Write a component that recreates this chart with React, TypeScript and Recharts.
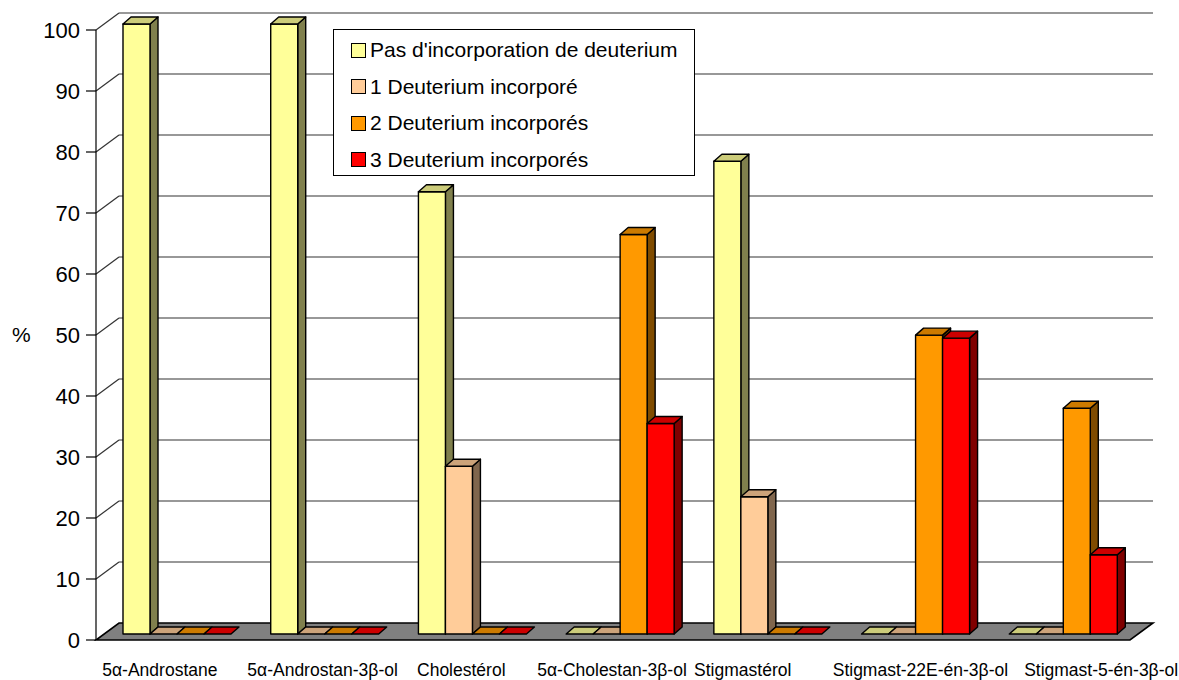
import React from 'react';
import { BarChart, Bar, XAxis, YAxis, CartesianGrid, Legend } from 'recharts';

const categories = [
  '5α-Androstane',
  '5α-Androstan-3β-ol',
  'Cholestérol',
  '5α-Cholestan-3β-ol',
  'Stigmastérol',
  'Stigmast-22E-én-3β-ol',
  'Stigmast-5-én-3β-ol',
];
const noDeuterium = [100, 100, 72.5, 0, 77.5, 0, 0];
const oneDeuterium = [0, 0, 27.5, 0, 22.5, 0, 0];
const twoDeuterium = [0, 0, 0, 65.5, 0, 49, 37];
const threeDeuterium = [0, 0, 0, 34.5, 0, 48.5, 13];
const yTicks = [0, 10, 20, 30, 40, 50, 60, 70, 80, 90, 100];

const data = categories.map((name, i) => ({
  name,
  d0: noDeuterium[i],
  d1: oneDeuterium[i],
  d2: twoDeuterium[i],
  d3: threeDeuterium[i],
}));

const series = [
  { key: 'd0', label: "Pas d'incorporation de deuterium", front: '#FFFF99', top: '#CCCC7A', side: '#80804D' },
  { key: 'd1', label: '1 Deuterium incorporé', front: '#FFCC99', top: '#CCA37A', side: '#80664D' },
  { key: 'd2', label: '2 Deuterium incorporés', front: '#FF9900', top: '#CC7A00', side: '#804C00' },
  { key: 'd3', label: '3 Deuterium incorporés', front: '#FF0000', top: '#CC0000', side: '#800000' },
];

const FONT = '"Liberation Sans", Arial, sans-serif';
// depth of the floor / back wall, of the bar offset and of the bar itself
const WALL_DX = 23, WALL_DY = 17;
const OFF_DX = 7, OFF_DY = 6;
const BOX_DX = 8, BOX_DY = 7;
// small horizontal nudges of the category labels (Excel staggers them to avoid overlap)
const LABEL_NUDGE = [-10, 5, -4, -1, -18, 12, 45];

const Box3D = (props: any) => {
  const { x, y, width, height, front, top, side } = props;
  if (x == null || y == null) return null;
  const fx = x + OFF_DX;
  const fy = y - OFF_DY;
  const h = Math.max(0, height || 0);
  const bottom = fy + h;
  const pts = (a: number[][]) => a.map((p) => p.join(',')).join(' ');
  return (
    <g stroke="#000" strokeWidth={1.4} strokeLinejoin="round">
      {h > 0 && (
        <polygon
          fill={side}
          points={pts([[fx + width, fy], [fx + width + BOX_DX, fy - BOX_DY], [fx + width + BOX_DX, bottom - BOX_DY], [fx + width, bottom]])}
        />
      )}
      {h > 0 && <rect x={fx} y={fy} width={width} height={h} fill={front} />}
      <polygon
        fill={top}
        points={pts([[fx, fy], [fx + width, fy], [fx + width + BOX_DX, fy - BOX_DY], [fx + BOX_DX, fy - BOX_DY]])}
      />
    </g>
  );
};

const WallLine = (props: any) => {
  const { x1, y1, x2, y, height } = props;
  const isFloor = Math.abs(y1 - (y + height)) < 0.5;
  if (isFloor) {
    return (
      <polygon
        key={props.key}
        points={`${x1},${y1} ${x2},${y1} ${x2 + WALL_DX},${y1 - WALL_DY} ${x1 + WALL_DX},${y1 - WALL_DY}`}
        fill="#808080"
        stroke="#000"
        strokeWidth={1.6}
      />
    );
  }
  return (
    <g key={props.key} stroke="#333" strokeWidth={1.2}>
      <line x1={x1} y1={y1} x2={x1 + WALL_DX} y2={y1 - WALL_DY} />
      <line x1={x1 + WALL_DX} y1={y1 - WALL_DY} x2={x2 + WALL_DX} y2={y1 - WALL_DY} />
    </g>
  );
};

const CategoryTick = (props: any) => {
  const { x, y, payload, index } = props;
  return (
    <text
      x={x + (LABEL_NUDGE[index] || 0)}
      y={y}
      dy="0.71em"
      textAnchor="middle"
      fill="#000"
      fontSize={17.5}
      fontFamily={FONT}
    >
      {payload.value}
    </text>
  );
};

const LegendBox = () => (
  <div
    style={{
      width: 362,
      height: 147,
      border: '1px solid #000',
      background: '#fff',
      fontFamily: FONT,
      fontSize: 21,
      color: '#000',
      paddingTop: 2,
      boxSizing: 'border-box',
    }}
  >
    {series.map((s) => (
      <div key={s.key} style={{ display: 'flex', alignItems: 'center', height: 36.5, paddingLeft: 17 }}>
        <span
          style={{
            display: 'inline-block',
            width: 13,
            height: 13,
            background: s.front,
            border: '1px solid #000',
            marginRight: 4,
          }}
        />
        <span>{s.label}</span>
      </div>
    ))}
  </div>
);

export default function App() {
  return (
    <div style={{ position: 'fixed', left: 0, top: 0, width: 1179, height: 680, background: '#fff' }}>
      <BarChart
        width={1179}
        height={680}
        data={data}
        margin={{ top: 30, right: 49, left: 0, bottom: 10 }}
        barGap={0}
        barSize={27}
      >
        <CartesianGrid vertical={false} horizontal={WallLine as any} />
        <XAxis
          dataKey="name"
          axisLine={false}
          tickLine={false}
          height={30}
          tickSize={6}
          tickMargin={18}
          interval={0}
          tick={<CategoryTick />}
        />
        <YAxis
          width={96}
          domain={[0, 100]}
          ticks={yTicks}
          interval={0}
          tickSize={10}
          tickMargin={6}
          axisLine={{ stroke: '#000', strokeWidth: 1.2 }}
          tickLine={{ stroke: '#000', strokeWidth: 1.2 }}
          tick={{ fill: '#000', fontSize: 22, fontFamily: FONT }}
          label={{ value: '%', position: 'insideLeft', offset: 12, fill: '#000', fontSize: 21, fontFamily: FONT }}
        />
        <Legend
          layout="vertical"
          align="center"
          verticalAlign="middle"
          wrapperStyle={{ left: 333, top: 29, width: 362, height: 147 }}
          content={() => <LegendBox />}
        />
        {series.map((s) => (
          <Bar
            key={s.key}
            dataKey={s.key}
            name={s.label}
            fill={s.front}
            isAnimationActive={false}
            shape={(p: any) => <Box3D {...p} front={s.front} top={s.top} side={s.side} />}
          />
        ))}
      </BarChart>
    </div>
  );
}
